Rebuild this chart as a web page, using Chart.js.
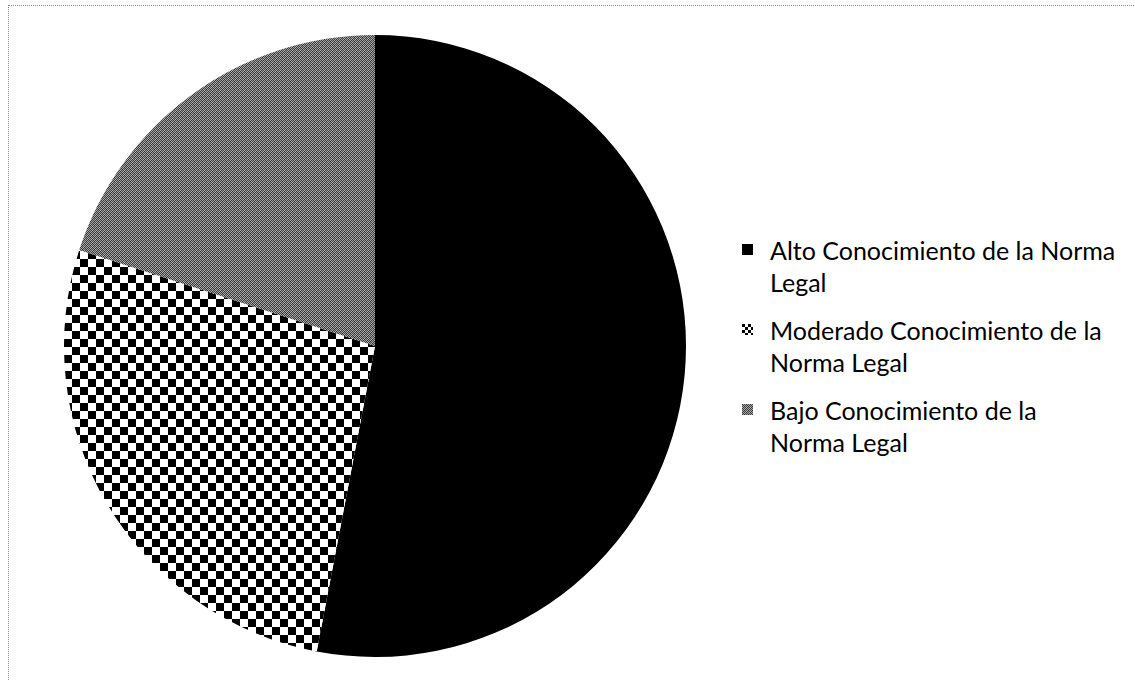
<!DOCTYPE html>
<html lang="es">
<head>
<meta charset="utf-8">
<title>Conocimiento de la Norma Legal</title>
<script src="https://cdn.jsdelivr.net/npm/chart.js@4.4.1/dist/chart.umd.min.js"></script>
<style>
    html, body {
        margin: 0;
        padding: 0;
        background: #ffffff;
    }
    #page {
        position: relative;
        width: 1135px;
        height: 681px;
        overflow: hidden;
    }
    #frame {
        position: absolute;
        left: 8px;
        top: 5px;
        width: 1127px;
        height: 680px;
        border-top: 1px dotted #8c8c8c;
        border-left: 1px dotted #8c8c8c;
    }
    #pieWrap {
        position: absolute;
        left: 64px;
        top: 35px;
        width: 622px;
        height: 622px;
    }
    #legend {
        position: absolute;
        left: 742px;
        top: 234px;
        font-family: Lato, 'Open Sans', sans-serif;
        font-size: 25px;
        color: #000000;
    }
    .legend-item {
        position: relative;
        padding-left: 28px;
        line-height: 32px;
        margin-bottom: 16px;
    }
    .legend-box {
        position: absolute;
        left: 0;
        top: 10px;
        width: 11px;
        height: 11px;
    }
</style>
</head>
<body>
<div id="page">
    <div id="frame"></div>
    <div id="pieWrap"><canvas id="normaPieChart"></canvas></div>
    <div id="legend"></div>
</div>
<script>
// Chart data
const categoryLines = [
    ['Alto Conocimiento de la Norma', 'Legal'],
    ['Moderado Conocimiento de la', 'Norma Legal'],
    ['Bajo Conocimiento de la', 'Norma Legal']
];
const shareValues = [53, 27, 20];

/**
 * Build a black/white checkerboard fill
 */
function makeCheckerPattern(ctx, cell) {
    const c = document.createElement('canvas');
    c.width = cell * 2;
    c.height = cell * 2;
    const g = c.getContext('2d');
    g.fillStyle = '#ffffff';
    g.fillRect(0, 0, c.width, c.height);
    g.fillStyle = '#000000';
    g.fillRect(0, 0, cell, cell);
    g.fillRect(cell, cell, cell, cell);
    return ctx.createPattern(c, 'repeat');
}

/**
 * Build the grainy grey fill (fixed dither, no randomness)
 */
function makeGreyPattern(ctx) {
    const shades = [
        '#303030', '#a4a4a4', '#484848', '#b0b0b0',
        '#989898', '#404040', '#a8a8a8', '#383838',
        '#4c4c4c', '#9c9c9c', '#303030', '#a8a8a8',
        '#b4b4b4', '#3c3c3c', '#909090', '#444444'
    ];
    const c = document.createElement('canvas');
    c.width = 4;
    c.height = 4;
    const g = c.getContext('2d');
    shades.forEach((s, i) => {
        g.fillStyle = s;
        g.fillRect(i % 4, Math.floor(i / 4), 1, 1);
    });
    return ctx.createPattern(c, 'repeat');
}

const canvas = document.getElementById('normaPieChart');
const ctx = canvas.getContext('2d');

const sliceFills = [
    '#000000',
    makeCheckerPattern(ctx, 8),
    makeGreyPattern(ctx)
];

const normaPieChart = new Chart(ctx, {
    type: 'pie',
    data: {
        labels: categoryLines.map(lines => lines.join(' ')),
        datasets: [{
            data: shareValues,
            backgroundColor: sliceFills,
            borderWidth: 0
        }]
    },
    options: {
        responsive: true,
        maintainAspectRatio: false,
        animation: false,
        layout: { padding: 0 },
        plugins: {
            legend: { display: false },
            tooltip: { enabled: false }
        }
    }
});

// HTML legend with wrapped labels
const legendEl = document.getElementById('legend');
categoryLines.forEach((lines, i) => {
    const item = document.createElement('div');
    item.className = 'legend-item';
    const box = document.createElement('canvas');
    box.className = 'legend-box';
    box.width = 11;
    box.height = 11;
    const bctx = box.getContext('2d');
    bctx.fillStyle = i === 1 ? makeCheckerPattern(bctx, 3) : (i === 2 ? makeGreyPattern(bctx) : '#000000');
    bctx.fillRect(0, 0, 11, 11);
    item.appendChild(box);
    lines.forEach((line, j) => {
        if (j > 0) item.appendChild(document.createElement('br'));
        item.appendChild(document.createTextNode(line));
    });
    legendEl.appendChild(item);
});
</script>
</body>
</html>
